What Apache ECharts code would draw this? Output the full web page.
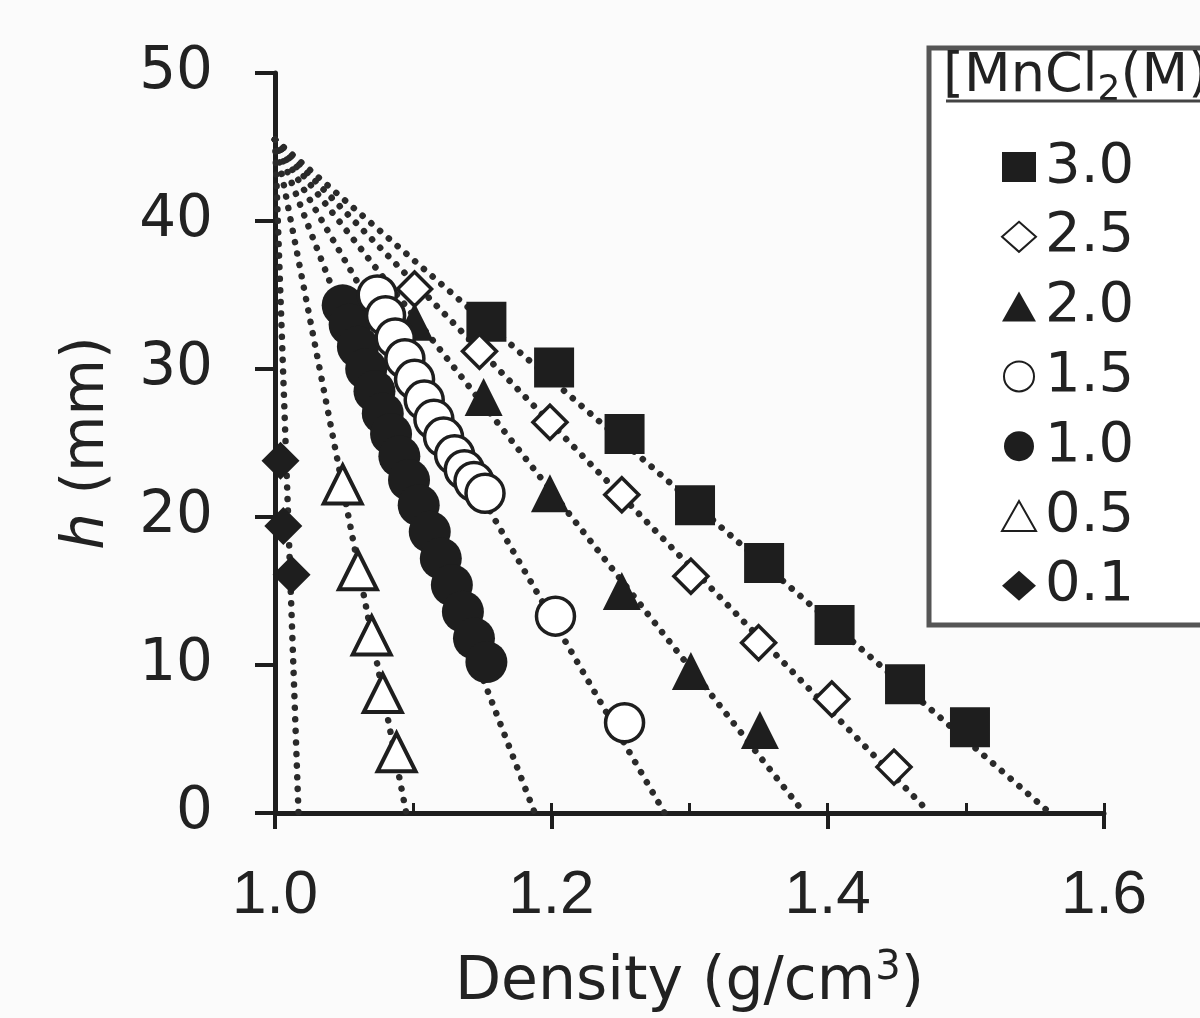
<!DOCTYPE html>
<html>
<head>
<meta charset="utf-8">
<script src="https://cdn.jsdelivr.net/npm/echarts@6/dist/echarts.min.js"></script>
<style>
html,body{margin:0;padding:0;background:#fbfbfb;}
#chart{width:1200px;height:1018px;}
</style>
</head>
<body>
<div id="chart"></div>
<script>
// ---- data ----
const concentrations = ['3.0', '2.5', '2.0', '1.5', '1.0', '0.5', '0.1'];
const xTickLabels = ['1.0', '1.2', '1.4', '1.6'];
const yTickLabels = ['0', '10', '20', '30', '40', '50'];

const mn30x = [1.153, 1.202, 1.253, 1.304, 1.354, 1.405, 1.456, 1.503];
const mn30h = [33.2, 30.1, 25.6, 20.8, 16.9, 12.7, 8.7, 5.8];

const mn25x = [1.101, 1.148, 1.199, 1.251, 1.301, 1.350, 1.403, 1.448];
const mn25h = [35.4, 31.2, 26.4, 21.5, 16.0, 11.5, 7.7, 3.1];

const mn20x = [1.101, 1.151, 1.199, 1.251, 1.301, 1.351];
const mn20h = [33.2, 28.1, 21.6, 15.0, 9.6, 5.6];

const mn15x = [1.074, 1.080, 1.087, 1.094, 1.101, 1.108, 1.115, 1.122, 1.130, 1.137, 1.144, 1.152, 1.203, 1.253];
const mn15h = [35.0, 33.6, 32.1, 30.7, 29.3, 27.9, 26.6, 25.4, 24.2, 23.2, 22.4, 21.6, 13.3, 6.1];

const mn10x = [1.049, 1.054, 1.060, 1.066, 1.072, 1.078, 1.084, 1.090, 1.097, 1.104, 1.112, 1.120, 1.128, 1.136, 1.144, 1.153];
const mn10h = [34.3, 33.0, 31.5, 30.0, 28.5, 27.0, 25.6, 24.1, 22.5, 20.8, 19.0, 17.2, 15.4, 13.6, 11.8, 10.2];

const mn05x = [1.049, 1.060, 1.070, 1.078, 1.088];
const mn05h = [22.2, 16.4, 12.0, 8.1, 4.1];

const mn01x = [1.004, 1.006, 1.012];
const mn01h = [23.8, 19.4, 16.1];

// dotted fit lines: common top point and x-intercepts
const fitTopX = 1.0;
const fitTopH = 45.5;
const fitInterceptX = [1.561, 1.474, 1.383, 1.282, 1.188, 1.095, 1.017];

// ---- chart ----
const zip = (xs, ys) => xs.map((x, i) => [x, ys[i]]);
const FONT = '"Liberation Sans", Arial, Helvetica, sans-serif';
const WIDE = '"DejaVu Sans", "Liberation Sans", sans-serif';
const INK = '#1e1e1e';
const TXT = '#222';

const markerDefs = [
  {name: concentrations[0], data: zip(mn30x, mn30h), symbol: 'rect', size: 40, fill: INK, bw: 0},
  {name: concentrations[1], data: zip(mn25x, mn25h), symbol: 'diamond', size: 34, fill: '#ffffff', bw: 3.5},
  {name: concentrations[2], data: zip(mn20x, mn20h), symbol: 'triangle', size: 38, fill: INK, bw: 0},
  {name: concentrations[4], data: zip(mn10x, mn10h), symbol: 'circle', size: 42, fill: INK, bw: 0},
  {name: concentrations[3], data: zip(mn15x, mn15h), symbol: 'circle', size: 38, fill: '#ffffff', bw: 3.5},
  {name: concentrations[5], data: zip(mn05x, mn05h), symbol: 'triangle', size: 38, fill: '#ffffff', bw: 4},
  {name: concentrations[6], data: zip(mn01x, mn01h), symbol: 'diamond', size: 38, fill: INK, bw: 0}
];

const series = [];
fitInterceptX.forEach((xi, i) => {
  series.push({
    type: 'line',
    name: 'fit' + i,
    data: [[fitTopX, fitTopH], [xi, 0]],
    showSymbol: false,
    silent: true,
    z: 1,
    lineStyle: {color: '#2a2a2a', width: 6.5, type: [0.1, 11.5], cap: 'round'}
  });
});
markerDefs.forEach(m => {
  series.push({
    type: 'scatter',
    name: m.name,
    data: m.data,
    symbol: m.symbol,
    symbolSize: m.size,
    z: 3,
    itemStyle: {color: m.fill, borderColor: INK, borderWidth: m.bw, opacity: 1}
  });
});

const chart = echarts.init(document.getElementById('chart'), null, {renderer: 'canvas'});
chart.setOption({
  backgroundColor: '#fbfbfb',
  animation: false,
  grid: {left: 275, right: 96, top: 73, bottom: 202, containLabel: false},
  xAxis: [{
    type: 'value', min: 1.0, max: 1.6, interval: 0.2,
    axisLine: {show: true, onZero: false, lineStyle: {color: INK, width: 5}},
    axisTick: {show: true, inside: false, length: 16, lineStyle: {color: INK, width: 4}},
    splitLine: {show: false},
    axisLabel: {
      margin: 52, fontSize: 62, fontFamily: FONT, color: TXT,
      formatter: v => xTickLabels[Math.round((v - 1.0) / 0.2)]
    },
    name: 'Density (g/cm{sup|3})',
    nameLocation: 'middle', nameGap: 136,
    nameTextStyle: {
      fontSize: 60, fontFamily: WIDE, color: TXT,
      rich: {sup: {fontSize: 40, fontFamily: WIDE, color: TXT, verticalAlign: 'top', padding: [0, 0, 28, 0]}}
    }
  }, {
    type: 'value', min: 1.0, max: 1.6, interval: 0.1, position: 'bottom',
    axisLine: {show: false}, splitLine: {show: false}, axisLabel: {show: false},
    axisTick: {show: true, inside: true, length: 10, lineStyle: {color: INK, width: 3}}
  }],
  yAxis: {
    type: 'value', min: 0, max: 50, interval: 10,
    axisLine: {show: true, onZero: false, lineStyle: {color: INK, width: 5}},
    axisTick: {show: true, inside: false, length: 20, lineStyle: {color: INK, width: 4}},
    splitLine: {show: false},
    axisLabel: {
      margin: 62, fontSize: 58, fontFamily: WIDE, color: TXT,
      formatter: v => yTickLabels[Math.round(v / 10)]
    },
    name: '{i|h} (mm)',
    nameLocation: 'middle', nameGap: 158, nameRotate: 90,
    nameTextStyle: {
      fontSize: 58, fontFamily: WIDE, color: TXT,
      rich: {i: {fontSize: 58, fontFamily: WIDE, fontStyle: 'italic', color: TXT}}
    }
  },
  legend: {
    show: true, orient: 'vertical', left: 996, top: 134,
    data: concentrations,
    itemWidth: 34, itemHeight: 30, itemGap: 13.8,
    textStyle: {fontSize: 56, fontFamily: WIDE, color: TXT, lineHeight: 56, padding: [0, 0, 0, 4]},
    inactiveColor: TXT,
    selectedMode: false
  },
  graphic: [
    {type: 'rect', shape: {x: 929, y: 48, width: 300, height: 577},
     style: {fill: '#ffffff', stroke: '#555', lineWidth: 5}, z: 0},
    {type: 'text', left: 943, top: 50, z: 10,
     style: {
       text: '[MnCl{s|2}(M)]', fontSize: 54, fontFamily: WIDE, fill: TXT,
       rich: {s: {fontSize: 36, fontFamily: WIDE, fill: TXT, padding: [28, 0, 0, 0]}}
     }},
    {type: 'line', shape: {x1: 946, y1: 101, x2: 1200, y2: 101}, style: {stroke: '#444', lineWidth: 3}, z: 10}
  ],
  series: series
});
</script>
</body>
</html>
